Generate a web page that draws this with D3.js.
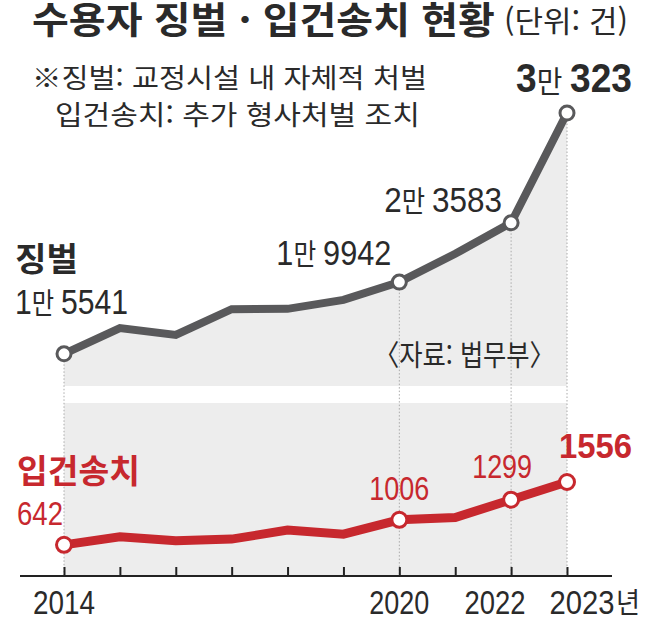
<!DOCTYPE html>
<html lang="ko">
<head>
<meta charset="utf-8">
<script src="https://cdn.jsdelivr.net/npm/d3@7"></script>
<style>
  body { margin: 0; background: #fff; }
  svg { display: block; }
  text { font-family: 'Liberation Sans Narrow', 'Liberation Sans', 'Noto Sans CJK KR', sans-serif; }
  .kr { font-family: 'Noto Sans CJK KR', sans-serif; }
</style>
</head>
<body>
<svg id="chart" width="650" height="622"></svg>
<script>
// Data (건)
const years = [2014, 2015, 2016, 2017, 2018, 2019, 2020, 2021, 2022, 2023];
const punishments = [15541, 17120, 16700, 18280, 18300, 18850, 19942, 21680, 23583, 30323];
const referrals = [642, 760, 702, 726, 856, 798, 1006, 1040, 1299, 1556];

// Years that get a label, a marker and a dotted guide
const labeledYears = [2014, 2020, 2022, 2023];
const yearLabels = ['2014', '2020', '2022', '2023'];
const punishLabels = [['1만', '5541'], ['1만', '9942'], ['2만', '3583'], ['3만', '323']];
const referralLabels = ['642', '1006', '1299', '1556'];

// Colours
const gray = '#59595b';
const red = '#c7282e';
const ink = '#2a2a2a';
const fillGray = '#ededed';

const svg = d3.select('#chart');

// Scales
const x = d3.scaleLinear().domain([2014, 2023]).range([64, 567]);
const yTop = d3.scaleLinear().domain([0, 30323]).range([607, 113]);
const yBottom = d3.scaleLinear().domain([0, 1556]).range([589, 482]);
const axisY = 576;
const topBase = 386;
const bottomPanelTop = 403;

// Squeeze a text to a given width, keeping its anchor fixed
function fit(sel, width) {
    const w = sel.node().getBBox().width;
    sel.attr('transform', `scale(${width / w},1)`);
    return sel;
}

// Place a text group at (px, py)
function label(px, py) {
    return svg.append('g').attr('transform', `translate(${px},${py})`);
}

const topData = years.map((yr, i) => ({ year: yr, value: punishments[i] }));
const bottomData = years.map((yr, i) => ({ year: yr, value: referrals[i] }));

// Upper panel: grey area under the 징벌 line
svg.append('path')
    .datum(topData)
    .attr('fill', fillGray)
    .attr('d', d3.area().x(d => x(d.year)).y0(topBase).y1(d => yTop(d.value)));

// Lower panel: grey block
svg.append('rect')
    .attr('x', x(2014))
    .attr('y', bottomPanelTop)
    .attr('width', x(2023) - x(2014))
    .attr('height', axisY - bottomPanelTop)
    .attr('fill', fillGray);

// Dotted guides
svg.selectAll('.guide')
    .data(labeledYears)
    .enter()
    .append('line')
    .attr('x1', d => x(d))
    .attr('x2', d => x(d))
    .attr('y1', d => yTop(punishments[years.indexOf(d)]))
    .attr('y2', axisY)
    .attr('stroke', '#aaa')
    .attr('stroke-width', 1)
    .attr('stroke-dasharray', '1.5,2');

// Axis
svg.append('line')
    .attr('x1', 20).attr('x2', 612)
    .attr('y1', axisY).attr('y2', axisY)
    .attr('stroke', '#222').attr('stroke-width', 2);

svg.append('g')
    .attr('transform', `translate(0,${axisY})`)
    .call(d3.axisBottom(x).tickValues(years).tickSizeInner(-9).tickSizeOuter(0).tickFormat(''))
    .call(g => g.select('.domain').remove())
    .call(g => g.selectAll('.tick line').attr('stroke', '#222').attr('stroke-width', 2));

// Year labels
const yearShift = [0, 0, -16, 15];
const yearWidth = [62, 60, 61, 65];
labeledYears.forEach((yr, i) => {
    const t = label(x(yr) + yearShift[i], 614).append('text')
        .attr('text-anchor', 'middle')
        .attr('font-size', 34)
        .attr('fill', ink)
        .text(yearLabels[i]);
    fit(t, yearWidth[i]);
});
label(616, 613).append('text')
    .attr('class', 'kr')
    .attr('font-size', 28)
    .attr('fill', ink)
    .text('년')
    .call(t => fit(t, 24));

// Lines
const lineGen = scale => d3.line().x(d => x(d.year)).y(d => scale(d.value));

svg.append('path')
    .datum(topData)
    .attr('fill', 'none')
    .attr('stroke', gray)
    .attr('stroke-width', 8)
    .attr('d', lineGen(yTop));

svg.append('path')
    .datum(bottomData)
    .attr('fill', 'none')
    .attr('stroke', red)
    .attr('stroke-width', 9)
    .attr('d', lineGen(yBottom));

// Markers
svg.selectAll('.dotTop')
    .data(topData.filter(d => labeledYears.includes(d.year)))
    .enter()
    .append('circle')
    .attr('cx', d => x(d.year))
    .attr('cy', d => yTop(d.value))
    .attr('r', 7)
    .attr('fill', '#fff')
    .attr('stroke', gray)
    .attr('stroke-width', 3);

svg.selectAll('.dotBottom')
    .data(bottomData.filter(d => labeledYears.includes(d.year)))
    .enter()
    .append('circle')
    .attr('cx', d => x(d.year))
    .attr('cy', d => yBottom(d.value))
    .attr('r', 7.5)
    .attr('fill', '#fff')
    .attr('stroke', red)
    .attr('stroke-width', 3);

// Value labels on the 징벌 line
const topLabelStyle = [
    { dx: -49, dy: -40, anchor: 'start', width: 113, bold: false },
    { dx: -8, dy: -17, anchor: 'end', width: 115, bold: false },
    { dx: -9, dy: -11, anchor: 'end', width: 118, bold: false },
    { dx: 65, dy: -21, anchor: 'end', width: 116, bold: true }
];
labeledYears.forEach((yr, i) => {
    const s = topLabelStyle[i];
    const v = punishments[years.indexOf(yr)];
    const t = label(x(yr) + s.dx, yTop(v) + s.dy).append('text')
        .attr('text-anchor', s.anchor)
        .attr('fill', ink)
        .attr('font-size', s.bold ? 40 : 36);
    t.append('tspan').attr('font-weight', s.bold ? 'bold' : 'normal').text(punishLabels[i][0].slice(0, 1));
    t.append('tspan').attr('class', 'kr').attr('font-size', s.bold ? 30 : 29).text(punishLabels[i][0].slice(1) + ' ');
    t.append('tspan').attr('font-weight', s.bold ? 'bold' : 'normal').text(punishLabels[i][1]);
    fit(t, s.width);
});

// Value labels on the 입건송치 line
const bottomLabelStyle = [
    { dx: -1, dy: -20, anchor: 'end', width: 46, bold: false },
    { dx: 0, dy: -20, anchor: 'middle', width: 60, bold: false },
    { dx: -9, dy: -22, anchor: 'middle', width: 60, bold: false },
    { dx: -8, dy: -24, anchor: 'start', width: 73, bold: true }
];
labeledYears.forEach((yr, i) => {
    const s = bottomLabelStyle[i];
    const v = referrals[years.indexOf(yr)];
    const t = label(x(yr) + s.dx, yBottom(v) + s.dy).append('text')
        .attr('text-anchor', s.anchor)
        .attr('fill', red)
        .attr('font-size', s.bold ? 36 : 34)
        .attr('font-weight', s.bold ? 'bold' : 'normal')
        .text(referralLabels[i]);
    fit(t, s.width);
});

// Series names
fit(label(15, 271).append('text').attr('class', 'kr').attr('font-size', 33)
    .attr('font-weight', 'bold').attr('fill', ink).text('징벌'), 63);
fit(label(17, 483).append('text').attr('class', 'kr').attr('font-size', 33)
    .attr('font-weight', 'bold').attr('fill', red).text('입건송치'), 123);

// Source
fit(label(374, 366).append('text').attr('class', 'kr').attr('font-size', 29)
    .attr('fill', ink).text('〈자료: 법무부〉'), 181);

// Title and notes
fit(label(32, 34).append('text').attr('class', 'kr').attr('font-size', 37)
    .attr('font-weight', 'bold').attr('fill', ink).text('수용자 징벌 · 입건송치 현황'), 463);
fit(label(504, 32).append('text').attr('class', 'kr').attr('font-size', 30)
    .attr('fill', ink).text('(단위: 건)'), 124);
fit(label(32, 88).append('text').attr('class', 'kr').attr('font-size', 27)
    .attr('fill', ink).text('※징벌: 교정시설 내 자체적 처벌'), 395);
fit(label(55, 125).append('text').attr('class', 'kr').attr('font-size', 27)
    .attr('fill', ink).text('입건송치: 추가 형사처벌 조치'), 365);
</script>
</body>
</html>
